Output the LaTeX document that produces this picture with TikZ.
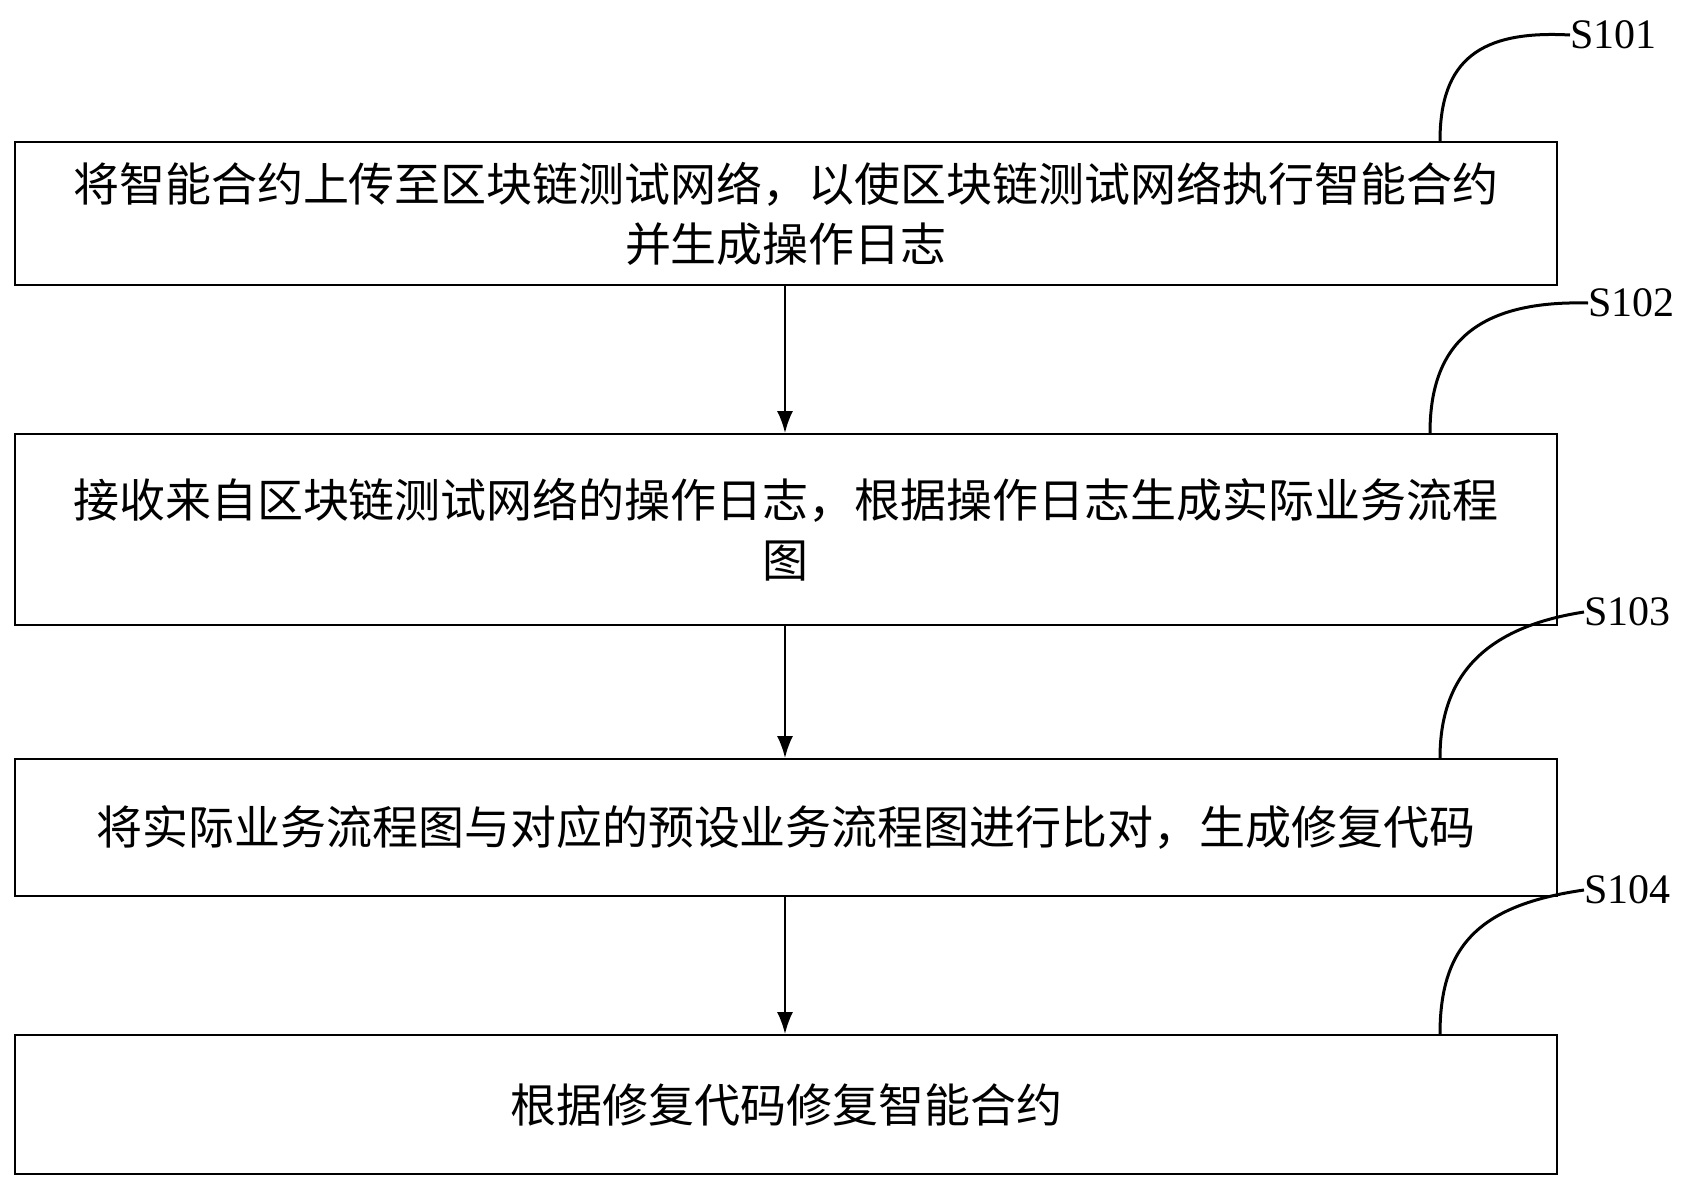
\documentclass[tikz,border=0pt]{standalone}
\usepackage{fontspec}
\setmainfont{Liberation Serif}
\newfontfamily\cjk{Noto Sans CJK SC}
\begin{document}
\begin{tikzpicture}[x=1pt,y=-1pt,
  box/.style={draw,line width=2pt,minimum width=1542pt,anchor=north west,inner sep=0pt,align=center,font=\cjk\fontsize{46}{60}\selectfont},
  arr/.style={-{Latex[length=22pt,width=16pt]},line width=2pt},
  lbl/.style={font=\fontsize{42}{46}\selectfont,anchor=west,inner sep=0pt},
  crv/.style={line width=3pt}]
\useasboundingbox (0,0) rectangle (1695,1187);
\usetikzlibrary{arrows.meta}
\node[box,minimum height=143pt] (b1) at (14,141) {将智能合约上传至区块链测试网络，以使区块链测试网络执行智能合约\\并生成操作日志};
\node[box,minimum height=191pt] (b2) at (14,433) {接收来自区块链测试网络的操作日志，根据操作日志生成实际业务流程\\图};
\node[box,minimum height=137pt] (b3) at (14,758) {将实际业务流程图与对应的预设业务流程图进行比对，生成修复代码};
\node[box,minimum height=139pt] (b4) at (14,1034) {根据修复代码修复智能合约};
\draw[arr] (b1.south -| 785,0) -- (b2.north -| 785,0);
\draw[arr] (b2.south -| 785,0) -- (b3.north -| 785,0);
\draw[arr] (b3.south -| 785,0) -- (b4.north -| 785,0);
\node[lbl] (l1) at (1570,35) {S101};
\node[lbl] (l2) at (1588,303) {S102};
\node[lbl] (l3) at (1584,612) {S103};
\node[lbl] (l4) at (1584,890) {S104};
\coordinate (c1) at (1440,141); \coordinate (c2) at (1430,433);
\coordinate (c3) at (1440,758); \coordinate (c4) at (1440,1034);
\draw[crv] (c1) .. controls (1440,60) and (1480,30) .. (l1.west);
\draw[crv] (c2) .. controls (1430,350) and (1470,300) .. (l2.west);
\draw[crv] (c3) .. controls (1440,680) and (1480,628) .. (l3.west);
\draw[crv] (c4) .. controls (1440,945) and (1480,905) .. (l4.west);
\end{tikzpicture}
\end{document}
